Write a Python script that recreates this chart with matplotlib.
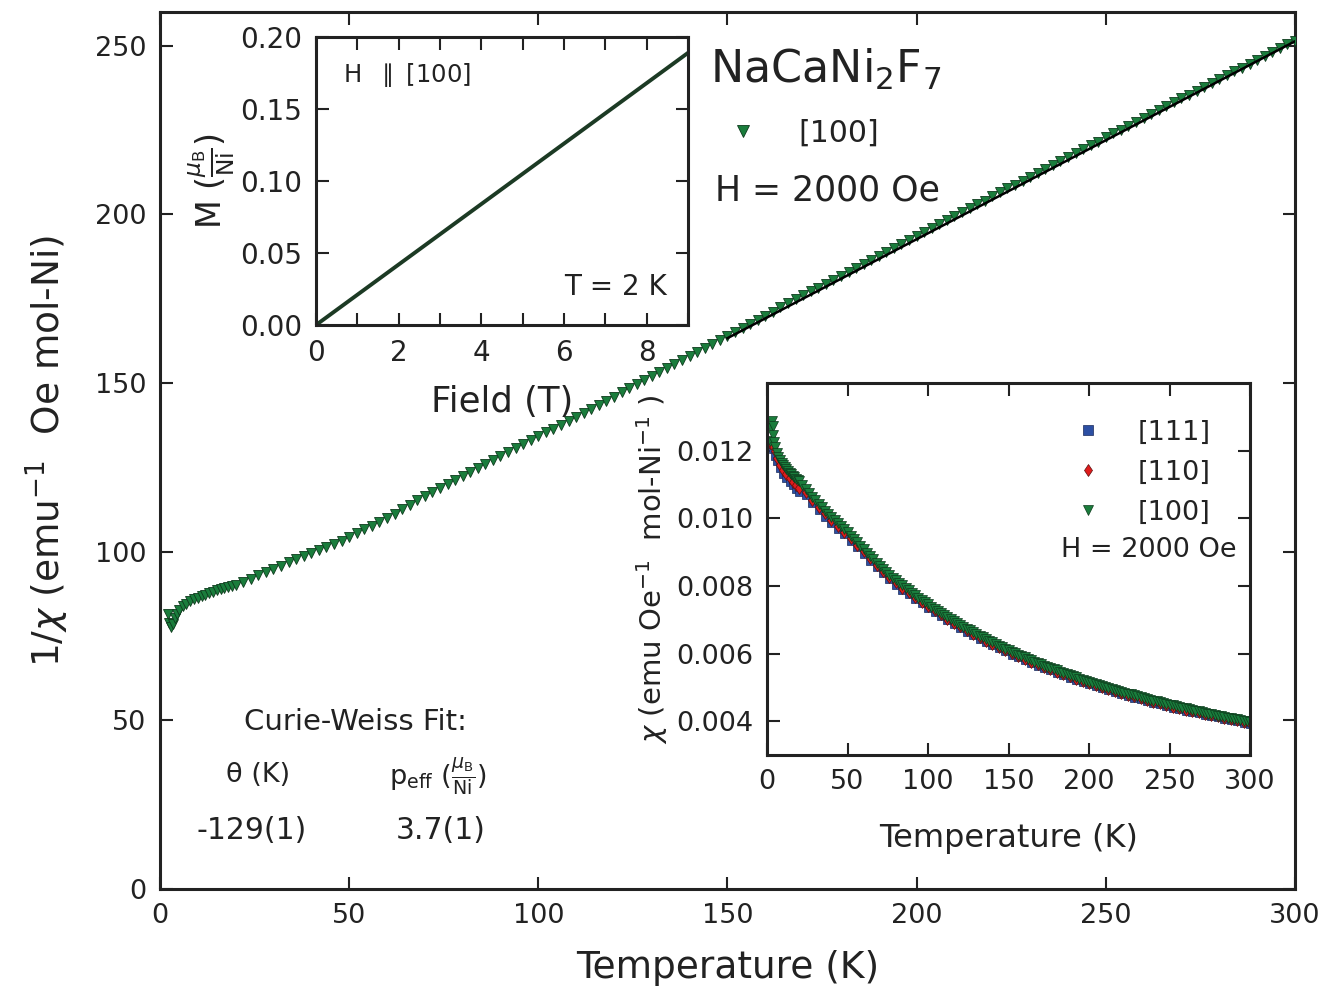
import numpy as np
import matplotlib
matplotlib.use("Agg")
import matplotlib.pyplot as plt
from matplotlib.ticker import MultipleLocator, FormatStrFormatter

# main panel: 1/chi vs T, H || [100]
temp_100 = [2, 2.5, 3, 3.5, 4, 4.5, 5, 6, 7, 8, 9, 10, 11, 12, 13, 14, 15, 16, 17, 18, 19] + list(range(20, 302, 2))
inv_chi_100 = [
    81.5, 79.0, 77.6, 78.5, 80.2, 81.6, 82.6, 83.8, 84.6, 85.3, 85.9, 86.4, 86.9, 87.3, 87.7, 88.1, 88.5, 88.9, 89.2, 89.6, 89.9,
    90.2, 91.1, 92.0, 93.0, 94.0, 95.0, 95.9, 96.8, 97.8, 98.7,
    99.6, 100.5, 101.4, 102.4, 103.3, 104.3, 105.4, 106.6, 107.7, 108.9,
    110.0, 111.3, 112.6, 113.9, 115.2, 116.5, 117.7, 118.9, 120.1, 121.3,
    122.5, 123.7, 124.8, 126.0, 127.1, 128.3, 129.5, 130.7, 131.8, 133.0,
    134.2, 135.4, 136.5, 137.7, 138.8, 140.0, 141.2, 142.4, 143.6, 144.8,
    146.0, 147.2, 148.4, 149.6, 150.8, 152.0, 153.2, 154.4, 155.6, 156.8,
    158.0, 159.2, 160.4, 161.6, 162.8, 164.0, 165.2, 166.4, 167.6, 168.8,
    170.0, 171.2, 172.4, 173.6, 174.8, 176.0, 177.2, 178.3, 179.5, 180.6,
    181.8, 183.0, 184.2, 185.3, 186.5, 187.7, 188.9, 190.1, 191.2, 192.4,
    193.6, 194.8, 196.0, 197.1, 198.3, 199.5, 200.7, 201.8, 203.0, 204.1,
    205.3, 206.5, 207.7, 208.8, 210.0, 211.2, 212.4, 213.5, 214.7, 215.8,
    217.0, 218.2, 219.3, 220.5, 221.6, 222.8, 224.0, 225.1, 226.3, 227.4,
    228.6, 229.8, 230.9, 232.1, 233.2, 234.4, 235.5, 236.7, 237.8, 239.0,
    240.1, 241.2, 242.4, 243.5, 244.7, 245.8, 246.9, 248.1, 249.2, 250.4,
    251.5,
]
# Curie-Weiss fit line (150-300 K)
fit_temp = [150, 300]
fit_inv_chi = [163.3, 251.3]

# inset: M vs field at 2 K
field = [0, 1, 2, 3, 4, 5, 6, 7, 8, 9]
magnetization = [0.0, 0.021, 0.042, 0.063, 0.084, 0.105, 0.126, 0.147, 0.168, 0.189]

# inset: chi vs T for the three directions
temp_dir = [2, 3, 4, 5, 6, 8, 10, 12, 14, 16, 18, 20] + list(range(24, 304, 4))
chi_111 = [
    0.01218, 0.01222, 0.01205, 0.01185, 0.01168, 0.01148, 0.01132, 0.01120, 0.01108, 0.01097, 0.01087, 0.01078,
    0.01068, 0.01045, 0.01025, 0.01005, 0.00987, 0.00969, 0.00952, 0.00934, 0.00914, 0.00895,
    0.00874, 0.00855, 0.00837, 0.00821, 0.00804, 0.00789, 0.00776, 0.00761, 0.00748, 0.00735,
    0.00723, 0.00711, 0.00698, 0.00686, 0.00676, 0.00665, 0.00654, 0.00644, 0.00634, 0.00625,
    0.00615, 0.00606, 0.00597, 0.00589, 0.00580, 0.00572, 0.00564, 0.00557, 0.00550, 0.00543,
    0.00536, 0.00529, 0.00522, 0.00516, 0.00510, 0.00503, 0.00497, 0.00491, 0.00486, 0.00480,
    0.00475, 0.00469, 0.00465, 0.00460, 0.00455, 0.00450, 0.00445, 0.00440, 0.00436, 0.00431,
    0.00427, 0.00423, 0.00419, 0.00415, 0.00411, 0.00407, 0.00403, 0.00399, 0.00395, 0.00392,
]
chi_110 = [
    0.01222, 0.01228, 0.01215, 0.01198, 0.01178, 0.01158, 0.01143, 0.01130, 0.01118, 0.01107, 0.01097, 0.01088,
    0.01077, 0.01055, 0.01034, 0.01014, 0.00996, 0.00978, 0.00960, 0.00941, 0.00921, 0.00902,
    0.00881, 0.00862, 0.00843, 0.00827, 0.00810, 0.00795, 0.00781, 0.00767, 0.00753, 0.00740,
    0.00728, 0.00716, 0.00703, 0.00691, 0.00680, 0.00669, 0.00659, 0.00648, 0.00638, 0.00629,
    0.00619, 0.00610, 0.00601, 0.00593, 0.00584, 0.00576, 0.00568, 0.00560, 0.00553, 0.00546,
    0.00539, 0.00533, 0.00526, 0.00519, 0.00513, 0.00507, 0.00500, 0.00495, 0.00489, 0.00484,
    0.00478, 0.00473, 0.00468, 0.00463, 0.00458, 0.00453, 0.00448, 0.00443, 0.00439, 0.00434,
    0.00430, 0.00426, 0.00422, 0.00418, 0.00414, 0.00410, 0.00406, 0.00402, 0.00398, 0.00395,
]
# [100] in the inset is the same measurement as the main panel
chi_100 = 1.0 / np.array(inv_chi_100)

GREEN = "#1a7d3c"
BLUE = "#2c4fa3"
RED = "#e01b1b"
DARK = "#222222"


def style_axes(ax, labelsize):
    for s in ax.spines.values():
        s.set_linewidth(2.2)
        s.set_color(DARK)
    ax.tick_params(which="both", direction="in", top=True, right=True,
                   length=9, width=1.5, color=DARK, labelsize=labelsize,
                   labelcolor=DARK, pad=10)


fig = plt.figure(figsize=(13.31, 9.90), dpi=100)

# main panel
ax = fig.add_axes([0.1202, 0.1020, 0.8527, 0.8859])
ax.plot(temp_100, inv_chi_100, linestyle="none", marker="v", markersize=6.5,
        markerfacecolor=GREEN, markeredgecolor="#0d3a1c", markeredgewidth=0.6,
        label="[100]", zorder=3)
ax.plot(fit_temp, fit_inv_chi, color="black", linewidth=1.8, zorder=4)
ax.set_xlim(0, 300)
ax.set_ylim(0, 260)
ax.xaxis.set_major_locator(MultipleLocator(50))
ax.yaxis.set_major_locator(MultipleLocator(50))
style_axes(ax, 19.5)
ax.set_xlabel("Temperature (K)", fontsize=27, color=DARK, labelpad=15)
ax.set_ylabel(r"1/$\chi$ (emu$^{-1}$  Oe mol-Ni)", fontsize=27, color=DARK, labelpad=17)

ax.text(0.485, 0.934, r"NaCaNi$_2$F$_7$", transform=ax.transAxes, fontsize=32,
        color=DARK, va="center", ha="left")
ax.legend(loc="upper left", bbox_to_anchor=(0.49, 0.892), frameon=False,
          fontsize=21.5, handlelength=1.0, handletextpad=1.37, borderaxespad=0,
          labelcolor=DARK, markerscale=1.3)
ax.text(0.489, 0.797, "H = 2000 Oe", transform=ax.transAxes, fontsize=25,
        color=DARK, va="center", ha="left")

ax.text(0.172, 0.190, "Curie-Weiss Fit:", transform=ax.transAxes, fontsize=21,
        color=DARK, ha="center", va="center")
ax.text(0.086, 0.130, "θ (K)", transform=ax.transAxes, fontsize=19.5,
        color=DARK, ha="center", va="center")
ax.text(0.245, 0.128, r"p$_{\rm eff}$ ($\frac{\mu_{\rm B}}{\rm Ni}$)", transform=ax.transAxes,
        fontsize=19.5, color=DARK, ha="center", va="center")
ax.text(0.081, 0.067, "-129(1)", transform=ax.transAxes, fontsize=21.5,
        color=DARK, ha="center", va="center")
ax.text(0.247, 0.067, "3.7(1)", transform=ax.transAxes, fontsize=21.5,
        color=DARK, ha="center", va="center")

# inset: magnetization
ax1 = fig.add_axes([0.2374, 0.6717, 0.2795, 0.2909])
ax1.plot(field, magnetization, color="#1c3a24", linewidth=2.8)
ax1.set_xlim(0, 9)
ax1.set_ylim(0, 0.20)
ax1.xaxis.set_major_locator(MultipleLocator(2))
ax1.xaxis.set_minor_locator(MultipleLocator(1))
ax1.yaxis.set_major_locator(MultipleLocator(0.05))
ax1.yaxis.set_major_formatter(FormatStrFormatter("%.2f"))
style_axes(ax1, 20)
ax1.set_xlabel("Field (T)", fontsize=25.5, color=DARK, labelpad=13)
ax1.set_ylabel(r"M ($\frac{\mu_{\rm B}}{\rm Ni}$)", fontsize=24, color=DARK, labelpad=2)
ax1.text(0.073, 0.868, r"H  $\parallel$ [100]", transform=ax1.transAxes, fontsize=17.5,
         color=DARK, va="center", ha="left")
ax1.text(0.944, 0.132, "T = 2 K", transform=ax1.transAxes, fontsize=20,
         color=DARK, va="center", ha="right")

# inset: susceptibility
ax2 = fig.add_axes([0.5763, 0.2374, 0.3629, 0.3758])
ax2.plot(temp_dir, chi_111, linestyle="none", marker="s", markersize=6,
         markerfacecolor=BLUE, markeredgecolor="#1a2a5a", markeredgewidth=0.5, label="[111]")
ax2.plot(temp_dir, chi_110, linestyle="none", marker="d", markersize=6,
         markerfacecolor=RED, markeredgecolor="#5a1010", markeredgewidth=0.5, label="[110]")
ax2.plot(temp_100, chi_100, linestyle="none", marker="v", markersize=6.5,
         markerfacecolor=GREEN, markeredgecolor="#0d3a1c", markeredgewidth=0.5, label="[100]")
ax2.set_xlim(0, 300)
ax2.set_ylim(0.003, 0.014)
ax2.xaxis.set_major_locator(MultipleLocator(50))
ax2.set_yticks([0.004, 0.006, 0.008, 0.010, 0.012])
ax2.yaxis.set_major_formatter(FormatStrFormatter("%.3f"))
style_axes(ax2, 19.5)
ax2.set_xlabel("Temperature (K)", fontsize=23, color=DARK, labelpad=20)
ax2.set_ylabel(r"$\chi$ (emu Oe$^{-1}$  mol-Ni$^{-1}$ )", fontsize=21, color=DARK, labelpad=4)
ax2.legend(loc="upper right", bbox_to_anchor=(0.94, 0.93), frameon=False,
           fontsize=19.5, handlelength=1.0, handletextpad=1.3, labelspacing=0.52,
           borderaxespad=0, labelcolor=DARK, markerscale=1.1)
ax2.text(0.973, 0.551, "H = 2000 Oe", transform=ax2.transAxes, fontsize=19.5,
         color=DARK, va="center", ha="right")

fig.savefig("out.png", dpi=100)
